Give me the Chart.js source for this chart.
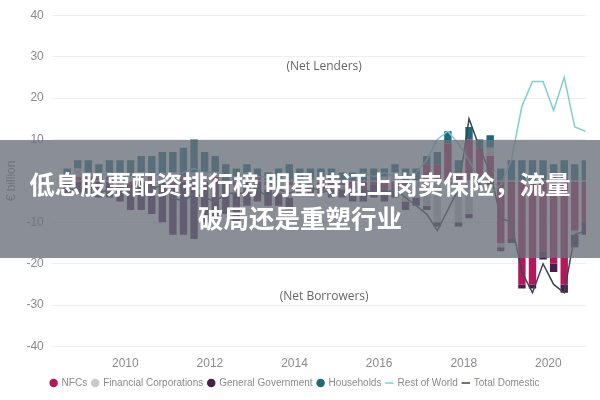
<!DOCTYPE html>
<html><head><meta charset="utf-8">
<script src="https://cdn.jsdelivr.net/npm/chart.js@4"></script>
<style>
body{margin:0;background:#fff;font-family:"Open Sans",sans-serif}
#wrap{position:relative;width:600px;height:400px}
#banner{position:absolute;left:0;top:140px;width:600px;height:118px;background:rgba(105,112,122,0.78);color:#fff;font-family:"Noto Sans CJK SC";font-weight:bold;font-size:25.5px;line-height:34px;text-align:center;padding-top:26px;box-sizing:border-box;white-space:nowrap}
</style></head><body>
<div id="wrap"><canvas id="c" width="600" height="400"></canvas>
<div id="banner">低息股票配资排行榜 明星持证上岗卖保险，流量<br>破局还是重塑行业</div></div>
<script>
const startYear = 2008.5;
const households = [2,2,3,3,3,3,4,4,5,6,5,7,8,5,4,4,3,3,2,2,3,4,3,3,3,3,2,2,3,3,2,2,3,3,2,3,3,3,3,2,3,3,5,5,5,5,4,5,4,5];
const generalGov = [-3,-3,-3,-4,-4,-5,-6,-7,-8,-10,-12,-13,-14,-10,-9,-8,-7,-6,-5,-4,-3,-3,-2,-2,-2,-2,-2,-2,-3,-3,-3,-2,-2,-2,-1,-1,-1,-1,-1,-1,-1,-1,-1,-1,-1,-2,-2,-2,-3,-3];
const nfcs = [0,1,1,1,1,0,-1,0,1,0,-1,1,1,0,1,0,-1,0,1,-1,0,-1,0,0,-1,-1,-1,-2,-2,-1,-2,-2,-2,0,4,4,9,2,10,8,6,-15,-14,-25,-25,-17,-20,-25,-12,-10];
const finCorp = [1,2,1,0,1,2,1,2,0,1,2,0,1,2,1,0,-2,1,0,-1,-3,-3,-1,-1,0,-1,-1,-1,0,0,1,2,-3,-4,-6,-10,0,-10,-8,0,2,-1,0,0,0,0,0,0,-1,0];
const restOfWorld = [1,2,1,1,2,1,1,2,1,2,1,2,3,2,2,1,1,2,1,1,1,0,1,0,1,1,0,1,2,1,2,1,1,2,5,10,12,9,5,0,-3,-1,5,18,24,24,17,25,13,12];
const totalDomestic = [-2,-2,-3,-3,-2,-2,-2,-2,-2,-1,-4,-5,-3,-4,-5,-3,-3,-3,-2,-4,-2,-3,-2,-2,-2,-3,-3,-3,-2,-3,-3,-2,-4,-6,-8,-12,-7,-2,10,8,2,-8,-10,-22,-27,-20,-25,-27,-13,-12];
const xs = households.map((_,i)=>startYear+i*0.25+0.125);
const pts = a => a.map((v,i)=>({x:xs[i],y:v}));
const grey='#8a8a8a';
const order=['NFCs','Financial Corporations','General Government','Households','Rest of World','Total Domestic'];
const notes={id:'notes',afterDatasetsDraw(ch){const {ctx,scales:{x,y}}=ch;ctx.save();ctx.fillStyle='#666';ctx.font='12px "Open Sans"';ctx.textAlign='center';ctx.fillText('(Net Lenders)',x.getPixelForValue(2014.7),y.getPixelForValue(27.5));ctx.fillText('(Net Borrowers)',x.getPixelForValue(2014.7),y.getPixelForValue(-28));ctx.restore();}};
new Chart(document.getElementById('c'),{
 data:{datasets:[
  {type:'line',label:'Rest of World',data:pts(restOfWorld),borderColor:'#7fcfcf',borderWidth:1.5,pointRadius:0,pointStyle:'line',order:0},
  {type:'line',label:'Total Domestic',data:pts(totalDomestic),borderColor:'#3a4550',borderWidth:1.5,pointRadius:0,pointStyle:'line',order:0},
  {type:'bar',label:'NFCs',data:pts(nfcs),backgroundColor:'#b5175a',stack:'s',order:1},
  {type:'bar',label:'Financial Corporations',data:pts(finCorp),backgroundColor:'#c9c9c9',stack:'s',order:1},
  {type:'bar',label:'General Government',data:pts(generalGov),backgroundColor:'#4b1d4e',stack:'s',order:1},
  {type:'bar',label:'Households',data:pts(households),backgroundColor:'#1d6a7c',stack:'s',order:1}
 ]},
 options:{responsive:false,animation:false,
  layout:{padding:{left:4,right:14,top:4,bottom:2}},
  datasets:{bar:{barPercentage:0.7,categoryPercentage:1}},
  scales:{
   x:{type:'linear',offset:false,min:2008.45,max:2020.89,stacked:true,grid:{display:false,offset:false},border:{display:false},
      ticks:{color:grey,font:{size:12},padding:2,callback:v=>String(v)},afterBuildTicks:a=>{a.ticks=[2010,2012,2014,2016,2018,2020].map(v=>({value:v}));}},
   y:{min:-40,max:40,stacked:true,ticks:{stepSize:10,color:grey,font:{size:12},padding:8},grid:{color:'#eeeeee'},border:{display:false},
      title:{display:true,text:'€ billion',color:grey,font:{size:12},padding:0}}
  },
  plugins:{legend:{position:'bottom',labels:{usePointStyle:true,boxWidth:6,boxHeight:6,color:grey,font:{size:10},padding:5,
     sort:(a,b)=>order.indexOf(a.text)-order.indexOf(b.text)}},
   tooltip:{enabled:false}}
 },plugins:[notes]});
</script></body></html>
